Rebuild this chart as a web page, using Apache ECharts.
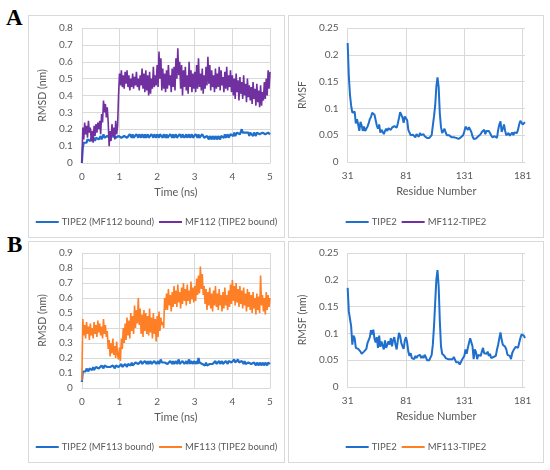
<!DOCTYPE html>
<html><head><meta charset="utf-8">
<script src="https://cdn.jsdelivr.net/npm/echarts@6/dist/echarts.min.js"></script>
<style>
html,body{margin:0;padding:0;background:#fff;width:550px;height:470px;overflow:hidden;}
.panel{position:absolute;box-sizing:border-box;border:1px solid #d9d9d9;background:#fff;}
.tag{position:absolute;font-family:"Liberation Serif","DejaVu Serif",serif;font-weight:bold;font-size:23px;color:#000;line-height:1;}
</style></head>
<body>
<div class="panel" id="pA1" style="left:28px;top:15px;width:257px;height:223px;"></div>
<div class="panel" id="pA2" style="left:288px;top:15px;width:256px;height:223px;"></div>
<div class="panel" id="pB1" style="left:28px;top:241px;width:257px;height:222px;"></div>
<div class="panel" id="pB2" style="left:288px;top:241px;width:256px;height:222px;"></div>
<div class="tag" style="left:6px;top:6px;">A</div>
<div class="tag" style="left:7px;top:233px;">B</div>
<script>
// ---- data ----
const timeStepNs = 0.025; // sampling interval of the RMSD traces (0..5 ns)
const rmsdA_TIPE2 = [
0.00,0.09,0.12,0.11,0.13,0.12,0.14,0.13,0.14,0.13,
0.15,0.13,0.14,0.15,0.13,0.15,0.14,0.16,0.14,0.15,
0.16,0.14,0.15,0.17,0.15,0.16,0.14,0.16,0.15,0.17,
0.15,0.16,0.14,0.16,0.15,0.17,0.15,0.16,0.14,0.16,
0.15,0.17,0.15,0.16,0.14,0.16,0.15,0.17,0.15,0.16,
0.15,0.17,0.16,0.15,0.17,0.15,0.16,0.15,0.17,0.16,
0.15,0.17,0.16,0.15,0.17,0.16,0.15,0.17,0.15,0.16,
0.17,0.15,0.16,0.15,0.17,0.16,0.15,0.17,0.16,0.15,
0.17,0.16,0.15,0.17,0.16,0.18,0.15,0.17,0.16,0.15,
0.17,0.15,0.16,0.15,0.17,0.16,0.15,0.17,0.15,0.16,
0.17,0.15,0.16,0.15,0.17,0.16,0.15,0.17,0.16,0.15,
0.16,0.17,0.15,0.16,0.17,0.15,0.16,0.17,0.15,0.16,
0.15,0.17,0.16,0.15,0.17,0.15,0.16,0.15,0.17,0.16,
0.15,0.16,0.14,0.16,0.15,0.14,0.16,0.15,0.14,0.16,
0.15,0.14,0.16,0.15,0.14,0.16,0.15,0.14,0.16,0.15,
0.16,0.15,0.17,0.15,0.16,0.17,0.15,0.16,0.17,0.16,
0.17,0.16,0.18,0.16,0.17,0.18,0.17,0.19,0.17,0.18,
0.20,0.18,0.19,0.17,0.18,0.19,0.17,0.18,0.16,0.18,
0.17,0.18,0.16,0.18,0.17,0.16,0.18,0.17,0.19,0.17,
0.18,0.16,0.18,0.17,0.19,0.17,0.18,0.16,0.18,0.17,
0.17];
const rmsdA_MF112 = [
0.00,0.21,0.14,0.24,0.17,0.22,0.15,0.25,0.18,0.21,
0.13,0.19,0.12,0.22,0.16,0.23,0.18,0.24,0.20,0.25,
0.17,0.29,0.24,0.37,0.30,0.35,0.27,0.33,0.24,0.10,
0.19,0.13,0.23,0.16,0.21,0.14,0.25,0.17,0.22,0.40,
0.53,0.46,0.55,0.45,0.52,0.44,0.54,0.47,0.55,0.45,
0.52,0.43,0.50,0.45,0.53,0.44,0.51,0.46,0.54,0.45,
0.50,0.43,0.52,0.46,0.56,0.44,0.53,0.42,0.55,0.43,
0.52,0.40,0.54,0.41,0.50,0.44,0.57,0.45,0.52,0.46,
0.58,0.45,0.66,0.50,0.62,0.43,0.56,0.44,0.53,0.42,
0.55,0.44,0.58,0.46,0.52,0.42,0.56,0.45,0.57,0.43,
0.62,0.50,0.68,0.52,0.60,0.44,0.58,0.40,0.55,0.45,
0.57,0.43,0.52,0.41,0.60,0.45,0.55,0.42,0.53,0.44,
0.54,0.42,0.58,0.44,0.62,0.45,0.53,0.43,0.56,0.41,
0.52,0.44,0.57,0.46,0.63,0.47,0.58,0.43,0.55,0.45,
0.52,0.42,0.56,0.44,0.53,0.45,0.57,0.43,0.55,0.46,
0.51,0.42,0.54,0.44,0.57,0.43,0.52,0.45,0.55,0.42,
0.52,0.40,0.50,0.38,0.53,0.42,0.49,0.37,0.51,0.41,
0.48,0.38,0.52,0.40,0.47,0.36,0.50,0.39,0.46,0.37,
0.45,0.35,0.48,0.38,0.44,0.34,0.47,0.36,0.43,0.33,
0.46,0.34,0.42,0.37,0.48,0.38,0.50,0.40,0.55,0.44,
0.54];
const rmsdB_TIPE2 = [
0.04,0.11,0.10,0.12,0.11,0.13,0.12,0.11,0.13,0.12,
0.13,0.12,0.14,0.12,0.13,0.14,0.13,0.15,0.13,0.14,
0.13,0.15,0.14,0.13,0.15,0.14,0.16,0.14,0.13,0.15,
0.14,0.15,0.13,0.15,0.14,0.13,0.15,0.14,0.15,0.14,
0.15,0.14,0.16,0.14,0.15,0.14,0.16,0.15,0.14,0.16,
0.15,0.16,0.15,0.17,0.15,0.16,0.15,0.17,0.16,0.18,
0.16,0.17,0.16,0.18,0.16,0.17,0.16,0.18,0.17,0.16,
0.18,0.16,0.17,0.18,0.16,0.17,0.16,0.18,0.17,0.16,
0.17,0.18,0.16,0.17,0.19,0.17,0.16,0.18,0.17,0.16,
0.18,0.16,0.17,0.16,0.18,0.17,0.16,0.18,0.16,0.17,
0.18,0.16,0.17,0.19,0.16,0.17,0.16,0.18,0.17,0.16,
0.17,0.18,0.16,0.17,0.19,0.16,0.18,0.17,0.16,0.18,
0.17,0.16,0.18,0.16,0.20,0.17,0.16,0.18,0.16,0.17,
0.16,0.15,0.17,0.15,0.16,0.15,0.16,0.15,0.17,0.16,
0.17,0.16,0.18,0.16,0.17,0.16,0.18,0.16,0.17,0.18,
0.16,0.17,0.16,0.18,0.17,0.16,0.18,0.17,0.19,0.17,
0.18,0.16,0.19,0.17,0.18,0.17,0.19,0.17,0.18,0.16,
0.18,0.17,0.16,0.18,0.16,0.17,0.15,0.17,0.16,0.17,
0.16,0.17,0.15,0.17,0.16,0.15,0.17,0.16,0.15,0.17,
0.16,0.15,0.17,0.16,0.15,0.17,0.16,0.15,0.17,0.16,
0.16];
const rmsdB_MF113 = [
0.05,0.46,0.35,0.42,0.33,0.44,0.36,0.41,0.32,0.43,
0.35,0.40,0.33,0.44,0.36,0.42,0.34,0.45,0.37,0.43,
0.35,0.41,0.33,0.46,0.36,0.42,0.34,0.38,0.26,0.32,
0.21,0.30,0.23,0.33,0.22,0.28,0.20,0.31,0.22,0.19,
0.27,0.18,0.33,0.26,0.40,0.30,0.43,0.32,0.47,0.35,
0.45,0.33,0.50,0.38,0.48,0.36,0.55,0.40,0.52,0.43,
0.60,0.42,0.53,0.36,0.49,0.34,0.52,0.38,0.50,0.36,
0.48,0.35,0.53,0.37,0.47,0.33,0.50,0.36,0.46,0.31,
0.48,0.34,0.51,0.38,0.47,0.42,0.44,0.40,0.60,0.52,
0.63,0.52,0.66,0.55,0.62,0.51,0.64,0.54,0.68,0.56,
0.65,0.54,0.69,0.57,0.64,0.53,0.67,0.56,0.70,0.58,
0.66,0.55,0.69,0.58,0.65,0.56,0.71,0.59,0.67,0.57,
0.68,0.58,0.73,0.62,0.75,0.63,0.81,0.66,0.76,0.62,
0.68,0.56,0.66,0.52,0.64,0.55,0.67,0.53,0.63,0.51,
0.65,0.55,0.68,0.54,0.63,0.52,0.66,0.55,0.62,0.51,
0.64,0.53,0.67,0.55,0.62,0.52,0.65,0.54,0.69,0.56,
0.72,0.58,0.68,0.55,0.70,0.57,0.66,0.54,0.68,0.56,
0.65,0.53,0.67,0.55,0.63,0.51,0.66,0.54,0.64,0.52,
0.62,0.50,0.64,0.53,0.60,0.49,0.63,0.52,0.61,0.50,
0.75,0.55,0.62,0.51,0.60,0.49,0.64,0.52,0.62,0.54,
0.60];
const residueFirst = 31, residueLast = 183;
const rmsfA_TIPE2 = [
0.222,0.160,0.125,0.105,0.092,0.090,0.094,0.072,0.080,0.070,
0.058,0.075,0.068,0.058,0.066,0.058,0.062,0.066,0.072,0.080,
0.084,0.092,0.090,0.088,0.086,0.068,0.062,0.070,0.055,0.060,
0.062,0.052,0.058,0.062,0.058,0.063,0.061,0.060,0.064,0.065,
0.067,0.070,0.064,0.072,0.082,0.093,0.090,0.083,0.073,0.085,
0.086,0.078,0.060,0.058,0.050,0.047,0.051,0.048,0.046,0.052,
0.049,0.047,0.054,0.050,0.053,0.052,0.048,0.046,0.045,0.045,
0.045,0.046,0.050,0.068,0.085,0.105,0.140,0.158,0.140,0.090,
0.065,0.054,0.058,0.062,0.055,0.050,0.051,0.050,0.047,0.046,
0.048,0.046,0.044,0.045,0.044,0.043,0.044,0.046,0.048,0.050,
0.057,0.066,0.064,0.060,0.065,0.066,0.056,0.048,0.043,0.043,
0.044,0.046,0.048,0.050,0.052,0.056,0.058,0.060,0.052,0.058,
0.060,0.058,0.059,0.050,0.046,0.045,0.048,0.046,0.045,0.060,
0.070,0.076,0.056,0.062,0.070,0.058,0.050,0.047,0.054,0.049,
0.052,0.055,0.050,0.055,0.056,0.054,0.060,0.070,0.077,0.075,
0.070,0.072,0.074];
const rmsfB_TIPE2 = [
0.185,0.141,0.144,0.113,0.079,0.096,0.091,0.073,0.071,0.071,
0.068,0.066,0.062,0.060,0.066,0.063,0.071,0.082,0.081,0.093,
0.106,0.098,0.107,0.090,0.083,0.093,0.073,0.096,0.075,0.085,
0.088,0.070,0.087,0.073,0.070,0.085,0.079,0.091,0.076,0.088,
0.093,0.079,0.070,0.087,0.101,0.095,0.082,0.076,0.071,0.087,
0.093,0.083,0.066,0.058,0.063,0.054,0.057,0.052,0.058,0.054,
0.058,0.056,0.060,0.054,0.058,0.054,0.060,0.056,0.050,0.048,
0.050,0.051,0.060,0.079,0.113,0.157,0.200,0.218,0.188,0.123,
0.076,0.062,0.060,0.058,0.054,0.051,0.052,0.051,0.052,0.051,
0.052,0.056,0.051,0.046,0.045,0.046,0.042,0.046,0.051,0.052,
0.058,0.070,0.062,0.073,0.082,0.091,0.091,0.076,0.052,0.070,
0.065,0.052,0.060,0.062,0.058,0.066,0.073,0.063,0.066,0.062,
0.066,0.058,0.062,0.054,0.051,0.056,0.058,0.058,0.070,0.079,
0.091,0.102,0.088,0.079,0.082,0.075,0.070,0.060,0.063,0.058,
0.052,0.063,0.068,0.066,0.075,0.076,0.073,0.082,0.091,0.098,
0.101,0.096,0.091];
const rmsdTicks = {A: 0.8, B: 0.9};
const residueTickStep = 50;

// ---- styling ----
const FONT = 'Lato, "Open Sans", sans-serif';
const BLUE = '#1f6fcc', PURPLE = '#7030a0', ORANGE = '#ff7f27';
const GRIDC = '#d9d9d9', TXT = '#595959';

const timeSeries = vals => vals.map((v, i) => [+(i * timeStepNs).toFixed(3), v]);
const residues = [];
for (let r = residueFirst; r <= residueLast; r++) residues.push(String(r));

function legend(top) {
  return {top: top, left: 'center', itemWidth: 23, itemHeight: 10, itemGap: 5, padding: 0,
    icon: 'path://M0,4L23,4L23,6L0,6Z',
    textStyle: {fontFamily: FONT, fontSize: 9.5, color: TXT, padding: [0, 0, 0, -2]}};
}
function yAxis(name, max, interval, nameGap) {
  return {type: 'value', min: 0, max: max, interval: interval, name: name,
    nameLocation: 'middle', nameGap: nameGap,
    nameTextStyle: {fontFamily: FONT, fontSize: 10.5, color: TXT},
    axisLine: {show: false}, axisTick: {show: false},
    axisLabel: {fontFamily: FONT, fontSize: 10, color: TXT, margin: 9},
    splitLine: {lineStyle: {color: GRIDC, width: 1}}};
}
function rmsdOption(top, ymax, s1, s2, col2, n1, n2, legTop) {
  return {
    animation: false,
    grid: {left: 51, top: top, width: 190, height: 135},
    legend: legend(legTop),
    xAxis: {type: 'value', min: 0, max: 5, interval: 1, name: 'Time (ns)',
      nameLocation: 'middle', nameGap: 22,
      nameTextStyle: {fontFamily: FONT, fontSize: 11, color: TXT},
      axisLine: {lineStyle: {color: GRIDC}}, axisTick: {show: false},
      axisLabel: {fontFamily: FONT, fontSize: 10, color: TXT, margin: 9},
      splitLine: {show: true, lineStyle: {color: GRIDC}}},
    yAxis: yAxis('RMSD (nm)', ymax, 0.1, 27),
    series: [
      {name: n1, type: 'line', data: timeSeries(s1), showSymbol: false, color: BLUE,
       lineStyle: {width: 2.2, color: BLUE}},
      {name: n2, type: 'line', data: timeSeries(s2), showSymbol: false, color: col2,
       lineStyle: {width: 1.6, color: col2}}
    ]
  };
}
function rmsfOption(top, yname, s1, col2, n2, legTop) {
  return {
    animation: false,
    grid: {left: 56, top: top, width: 180, height: 134},
    legend: legend(legTop),
    xAxis: {type: 'category', data: residues, boundaryGap: false, name: 'Residue Number',
      nameLocation: 'middle', nameGap: 22,
      nameTextStyle: {fontFamily: FONT, fontSize: 11, color: TXT},
      axisLine: {lineStyle: {color: GRIDC}}, axisTick: {show: false},
      axisLabel: {interval: residueTickStep - 1, fontFamily: FONT, fontSize: 10, color: TXT, margin: 9},
      splitLine: {show: true, interval: residueTickStep - 1, lineStyle: {color: GRIDC}}},
    yAxis: yAxis(yname, 0.25, 0.05, 33),
    series: [
      {name: 'TIPE2', type: 'line', data: s1, showSymbol: false, color: BLUE,
       lineStyle: {width: 2, color: BLUE}},
      {name: n2, type: 'line', data: [], showSymbol: false, color: col2,
       lineStyle: {width: 2, color: col2}}
    ]
  };
}
const cA1 = echarts.init(document.getElementById('pA1'));
cA1.setOption(rmsdOption(12, rmsdTicks.A, rmsdA_TIPE2, rmsdA_MF112, PURPLE,
  'TIPE2 (MF112 bound)', 'MF112 (TIPE2 bound)', 201));
const cA2 = echarts.init(document.getElementById('pA2'));
cA2.setOption(rmsfOption(12, 'RMSF', rmsfA_TIPE2, PURPLE, 'MF112-TIPE2', 201));
const cB1 = echarts.init(document.getElementById('pB1'));
cB1.setOption(rmsdOption(11, rmsdTicks.B, rmsdB_TIPE2, rmsdB_MF113, ORANGE,
  'TIPE2 (MF113 bound)', 'MF113 (TIPE2 bound)', 200));
const cB2 = echarts.init(document.getElementById('pB2'));
cB2.setOption(rmsfOption(11, 'RMSF (nm)', rmsfB_TIPE2, ORANGE, 'MF113-TIPE2', 200));
</script>
</body></html>
